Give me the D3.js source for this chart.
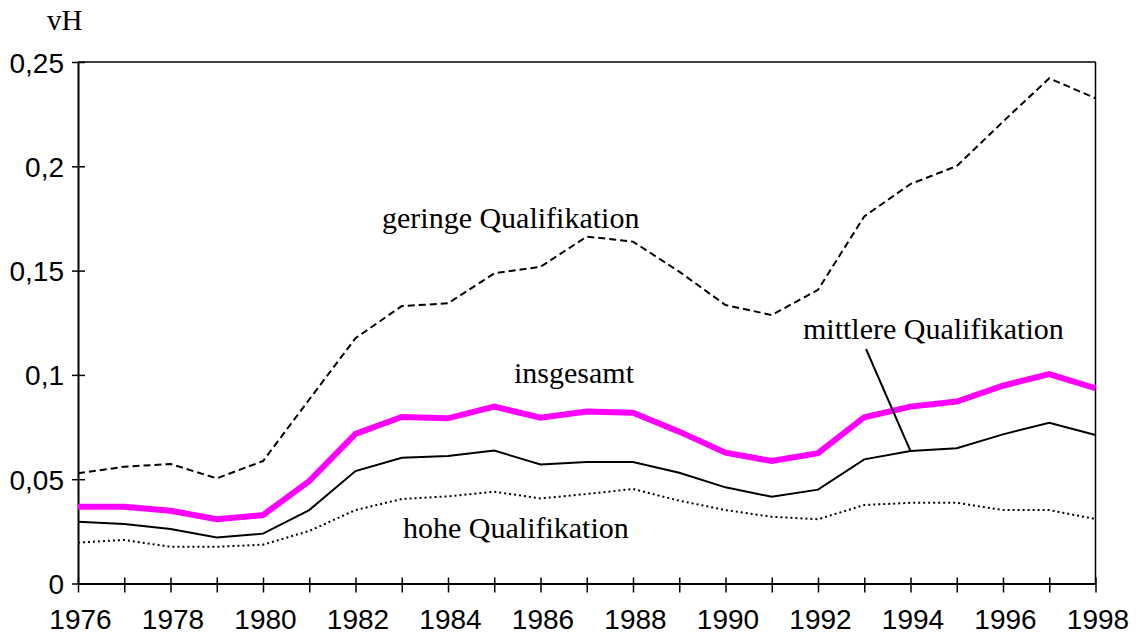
<!DOCTYPE html>
<html><head><meta charset="utf-8">
<script src="https://cdn.jsdelivr.net/npm/d3@7"></script>
<style>body{margin:0;background:#fff}svg{display:block}</style>
</head><body>
<svg id="c" width="1138" height="635"></svg>
<script>
const years = d3.range(1976, 1999);
const geringe = [0.0528,0.0560,0.0573,0.0504,0.0587,0.0882,0.1176,0.1330,0.1343,0.1487,0.1518,0.1663,0.1639,0.1495,0.1335,0.1287,0.1408,0.1760,0.1915,0.2001,0.2214,0.2422,0.2326];
const insgesamt = [0.0368,0.0368,0.0349,0.0308,0.0328,0.0491,0.0717,0.0798,0.0792,0.0848,0.0795,0.0824,0.0819,0.0728,0.0627,0.0587,0.0625,0.0797,0.0848,0.0872,0.0948,0.1004,0.0936];
const mittlere = [0.0296,0.0285,0.0261,0.0220,0.0239,0.0352,0.0539,0.0603,0.0611,0.0637,0.0571,0.0582,0.0582,0.0531,0.0461,0.0416,0.0450,0.0595,0.0635,0.0648,0.0715,0.0771,0.0712];
const hohe = [0.0196,0.0209,0.0176,0.0176,0.0186,0.0252,0.0352,0.0405,0.0418,0.0440,0.0408,0.0429,0.0453,0.0397,0.0352,0.0320,0.0308,0.0376,0.0387,0.0387,0.0352,0.0352,0.0309];
const yTicks = [0,0.05,0.1,0.15,0.2,0.25];
const yTickLabels = ["0","0,05","0,1","0,15","0,2","0,25"];
const xLabelYears = d3.range(1976, 1999, 2);

const svg = d3.select("#c");
const L = 78, R = 1095.5, T = 62, B = 583.5;
const x = d3.scaleLinear().domain([1976,1998]).range([L,R]);
const y = d3.scaleLinear().domain([0,0.25]).range([B,T]);
const sans = "'Liberation Sans', Arial, sans-serif";
const serif = "'Liberation Serif', 'Times New Roman', serif";

// frame top/right
svg.append("line").attr("x1",L).attr("x2",R).attr("y1",T).attr("y2",T).attr("stroke","#000").attr("stroke-width",1.5);
svg.append("line").attr("x1",R).attr("x2",R).attr("y1",T).attr("y2",B).attr("stroke","#000").attr("stroke-width",1.5);

// y axis
const yAxis = d3.axisLeft(y).tickValues(yTicks).tickFormat((d,i)=>yTickLabels[i]).tickSizeInner(6).tickSizeOuter(0).tickPadding(8);
const gy = svg.append("g").attr("transform",`translate(${L},0)`).call(yAxis);
gy.select(".domain").attr("stroke-width",2);
gy.selectAll(".tick line").attr("x1",7).attr("x2",-6).attr("stroke-width",1.5);
gy.selectAll("text").attr("font-family",sans).attr("font-size",28).attr("fill","#000").attr("dy","0.36em");

// x axis
const xAxis = d3.axisBottom(x).tickValues(years).tickFormat(d=> xLabelYears.includes(d) ? String(d) : "").tickSizeInner(9).tickSizeOuter(0).tickPadding(17);
const gx = svg.append("g").attr("transform",`translate(0,${B})`).call(xAxis);
gx.select(".domain").attr("stroke-width",2);
gx.selectAll(".tick line").attr("y1",-6).attr("y2",9).attr("stroke-width",1.5);
gx.selectAll("text").attr("font-family",sans).attr("font-size",28).attr("fill","#000").attr("dx","2");

const line = d3.line().x((d,i)=>x(years[i])).y(d=>y(d));
svg.append("path").datum(hohe).attr("d",line).attr("fill","none").attr("stroke","#000").attr("stroke-width",2).attr("stroke-dasharray","2,3");
svg.append("path").datum(mittlere).attr("d",line).attr("fill","none").attr("stroke","#000").attr("stroke-width",2);
svg.append("path").datum(geringe).attr("d",line).attr("fill","none").attr("stroke","#000").attr("stroke-width",2).attr("stroke-dasharray","7,4");
svg.append("path").datum(insgesamt).attr("d",line).attr("fill","none").attr("stroke","#ff00ff").attr("stroke-width",6);

// leader line for mittlere
svg.append("line").attr("x1",866).attr("y1",349).attr("x2",x(1994)).attr("y2",y(mittlere[18])).attr("stroke","#000").attr("stroke-width",2);

const labels = [
  {t:"vH", x:47, y:30, s:29},
  {t:"geringe Qualifikation", x:382, y:228, s:30},
  {t:"insgesamt", x:514, y:383, s:30},
  {t:"mittlere Qualifikation", x:803, y:339, s:30},
  {t:"hohe Qualifikation", x:403, y:538, s:30}
];
svg.selectAll("text.lab").data(labels).enter().append("text").attr("class","lab")
  .attr("x",d=>d.x).attr("y",d=>d.y).text(d=>d.t)
  .attr("font-family",serif).attr("font-size",d=>d.s).attr("fill","#000");
</script>
</body></html>
